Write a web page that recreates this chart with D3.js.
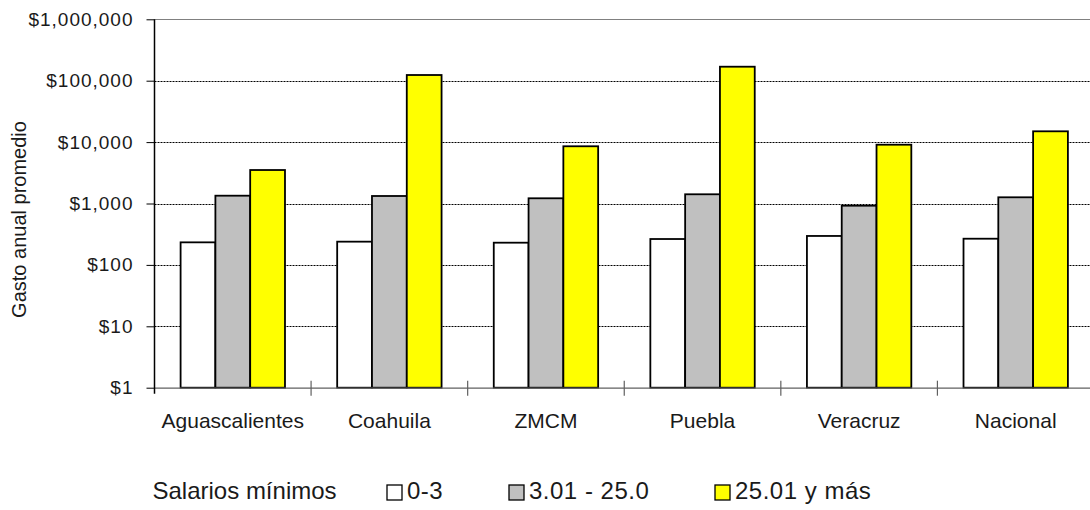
<!DOCTYPE html>
<html>
<head>
<meta charset="utf-8">
<script src="https://cdn.jsdelivr.net/npm/d3@7/dist/d3.min.js"></script>
<style>
  html, body { margin: 0; padding: 0; background: #fff; }
  svg { display: block; font-family: "Liberation Sans", Arial, sans-serif; }
</style>
</head>
<body>
<svg id="chart" width="1090" height="510"></svg>
<script>
const categories = ["Aguascalientes", "Coahuila", "ZMCM", "Puebla", "Veracruz", "Nacional"];
const seriesNames = ["0-3", "3.01 - 25.0", "25.01 y más"];
const seriesColors = ["#FFFFFF", "#C0C0C0", "#FFFF00"];
const values03 = [233, 239, 230, 264, 296, 267];
const values301 = [1340, 1325, 1216, 1413, 921, 1262];
const values2501 = [3510, 123800, 8550, 169000, 9070, 14990];
const yTicks = [1, 10, 100, 1000, 10000, 100000, 1000000];
const yTitle = "Gasto anual promedio";
const legendTitle = "Salarios mínimos";

const seriesValues = [values03, values301, values2501];
const svg = d3.select("#chart");

const plot = { left: 154.5, right: 1094, top: 19.3, bottom: 387.7 };

const x0 = d3.scaleBand().domain(categories).range([plot.left, plot.right]).padding(0);
const x1 = d3.scaleBand().domain(d3.range(seriesNames.length))
  .range([0, x0.bandwidth()]).paddingInner(0).paddingOuter(0.75);
const y = d3.scaleLog().domain([1, 1000000]).range([plot.bottom, plot.top]);

const fmt = d3.format("$,");

// gridlines
svg.append("g").selectAll("line")
  .data(yTicks.filter(t => t > 1 && t < 1000000))
  .join("line")
  .attr("x1", plot.left).attr("x2", plot.right)
  .attr("y1", d => Math.round(y(d)) + 0.5).attr("y2", d => Math.round(y(d)) + 0.5)
  .attr("stroke", "#000").attr("stroke-width", 1).attr("stroke-dasharray", "2,1");

// top border line
svg.append("line")
  .attr("x1", plot.left).attr("x2", plot.right)
  .attr("y1", Math.round(y(1000000)) + 0.5).attr("y2", Math.round(y(1000000)) + 0.5)
  .attr("stroke", "#808080").attr("stroke-width", 1);

// bars
const groups = svg.append("g").selectAll("g")
  .data(categories)
  .join("g")
  .attr("transform", d => `translate(${x0(d)},0)`);

groups.selectAll("rect")
  .data((c, ci) => seriesValues.map((vals, si) => ({ si, v: vals[ci] })))
  .join("rect")
  .attr("x", d => x1(d.si))
  .attr("width", x1.bandwidth())
  .attr("y", d => y(d.v))
  .attr("height", d => y(1) - y(d.v))
  .attr("fill", d => seriesColors[d.si])
  .attr("stroke", "#000")
  .attr("stroke-width", 1.8);

// x axis
const xAxis = d3.axisBottom(x0).tickSize(0).tickFormat("");
const gx = svg.append("g").attr("transform", `translate(0,${plot.bottom})`).call(xAxis);
gx.select(".domain").attr("stroke", "#606060").attr("stroke-width", 1.2);
// category boundary ticks (crossing)
svg.append("g").selectAll("line")
  .data(categories.slice(1))
  .join("line")
  .attr("x1", d => x0(d)).attr("x2", d => x0(d))
  .attr("y1", plot.bottom - 7).attr("y2", plot.bottom + 8)
  .attr("stroke", "#606060").attr("stroke-width", 1.2);
// category labels
svg.append("g").selectAll("text")
  .data(categories)
  .join("text")
  .attr("x", d => x0(d) + x0.bandwidth() / 2)
  .attr("y", 428)
  .attr("text-anchor", "middle")
  .attr("font-size", 21)
  .attr("fill", "#1a1a1a")
  .text(d => d);

// y axis
const yAxis = d3.axisLeft(y).tickValues(yTicks).tickFormat(fmt).tickSize(8).tickPadding(13);
const gy = svg.append("g").attr("transform", `translate(${plot.left},0)`).call(yAxis);
gy.select(".domain").remove();
gy.selectAll(".tick line").attr("stroke", "#000");
gy.selectAll(".tick text").attr("font-size", 19).attr("fill", "#1a1a1a")
  .attr("letter-spacing", "1px")
  .attr("font-family", "'Liberation Sans', Arial, sans-serif");
svg.append("line")
  .attr("x1", plot.left).attr("x2", plot.left)
  .attr("y1", plot.top).attr("y2", plot.bottom + 6)
  .attr("stroke", "#000").attr("stroke-width", 1.5);

// y title
svg.append("text")
  .attr("transform", "translate(26,219.5) rotate(-90)")
  .attr("text-anchor", "middle")
  .attr("font-size", 20)
  .attr("fill", "#1a1a1a")
  .text(yTitle);

// legend
svg.append("text")
  .attr("x", 152.5).attr("y", 499)
  .attr("font-size", 24).attr("fill", "#1a1a1a")
  .text(legendTitle);
const legendX = [387, 509, 715];
const leg = svg.append("g").selectAll("g")
  .data(seriesNames)
  .join("g")
  .attr("transform", (d, i) => `translate(${legendX[i]},0)`);
leg.append("rect")
  .attr("x", 0).attr("y", 485).attr("width", 15).attr("height", 15)
  .attr("fill", (d, i) => seriesColors[i])
  .attr("stroke", "#000").attr("stroke-width", 1.3);
leg.append("text")
  .attr("x", 20).attr("y", 499)
  .attr("font-size", 24).attr("fill", "#1a1a1a")
  .attr("letter-spacing", "0.5px")
  .text(d => d);
</script>
</body>
</html>
